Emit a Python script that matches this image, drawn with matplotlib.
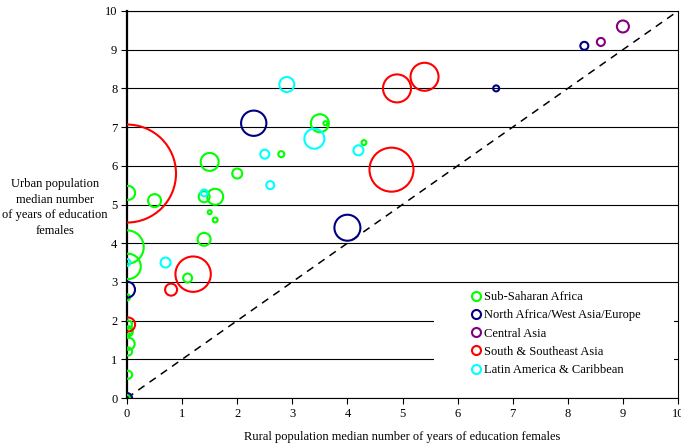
import numpy as np
import matplotlib
matplotlib.use("Agg")
import matplotlib.pyplot as plt
from matplotlib.lines import Line2D
from matplotlib.patches import Rectangle

plt.rcParams['font.family'] = ['Liberation Serif', 'DejaVu Serif']

# Regions, colours
regions = ["Sub-Saharan Africa", "North Africa/West Asia/Europe", "Central Asia",
           "South & Southeast Asia", "Latin America & Caribbean"]
colors = ["#00ff00", "#000080", "#800080", "#ff0000", "#00ffff"]

# Rural (x), urban (y) median years of education, females; bubble = population (arbitrary units)
ssa_x = [1.5, 2.0, 2.8, 3.5, 3.6, 4.3, 0.02, 0.5, 1.4, 1.6, 1.5, 1.6, 1.4, 1.1,
         0.0, 0.02, 0.0, 0.02, 0.03, 0.03, 0.03, 0.02, 0.02, 0.0]
ssa_y = [6.1, 5.8, 6.3, 7.1, 7.1, 6.6, 5.3, 5.1, 5.2, 5.2, 4.8, 4.6, 4.1, 3.1,
         3.9, 3.4, 2.6, 1.9, 1.75, 1.7, 1.4, 1.2, 0.6, 0.0]
ssa_pop = [81, 25, 9, 81, 4, 6, 49, 42, 30, 64, 4, 6, 42, 20,
           280, 160, 9, 16, 16, 16, 36, 16, 16, 9]

nawae_x = [2.3, 4.0, 0.0, 0.0, 6.7, 8.3]
nawae_y = [7.1, 4.4, 2.8, 0.0, 8.0, 9.1]
nawae_pop = [160, 169, 64, 25, 9, 16]

ca_x = [8.6, 9.0]
ca_y = [9.2, 9.6]
ca_pop = [16, 36]

ssea_x = [0.0, 4.8, 4.9, 5.4, 1.2, 0.8, 0.02]
ssea_y = [5.8, 5.9, 8.0, 8.3, 3.2, 2.8, 1.9]
ssea_pop = [2401, 484, 196, 196, 313, 36, 49]

lac_x = [2.9, 3.4, 2.5, 2.6, 4.2, 1.4, 0.7, 0.0]
lac_y = [8.1, 6.7, 6.3, 5.5, 6.4, 5.3, 3.5, 3.5]
lac_pop = [56, 100, 20, 16, 25, 12, 25, 12]

series = [(ssa_x, ssa_y, ssa_pop), (nawae_x, nawae_y, nawae_pop), (ca_x, ca_y, ca_pop),
          (ssea_x, ssea_y, ssea_pop), (lac_x, lac_y, lac_pop)]

fig = plt.figure(figsize=(6.81, 4.47), dpi=100)
ax = fig.add_axes([0.1865, 0.1096, 0.8091, 0.8658])

ax.set_xlim(0, 10)
ax.set_ylim(0, 10)
ax.set_xticks(range(11))
ax.set_yticks(range(11))
ax.yaxis.grid(True, color="black", linewidth=0.8)
ax.set_axisbelow(True)

# diagonal: urban = rural
ax.plot([0, 10], [0, 10], color="black", linestyle=(0, (5, 4)), linewidth=1.1, zorder=2)

k = (2 * 0.72) ** 2  # px radius^2 -> points^2 area
for (xs, ys, pop), c in zip(series, colors):
    ax.scatter(xs, ys, s=np.array(pop) * k, facecolors="none", edgecolors=c,
               linewidths=1.5, zorder=3)

for side in ["top", "right", "bottom"]:
    ax.spines[side].set_linewidth(0.8)
ax.spines["left"].set_linewidth(1.6)
ax.tick_params(axis="both", direction="out", length=4, width=0.8, labelsize=9, pad=3)

ax.set_xlabel("Rural population median number of years of education females",
              fontsize=9, labelpad=8)
fig.text(0.081, 0.536, "Urban population\nmedian number\nof years of education\nfemales",
         ha="center", va="center", fontsize=9, linespacing=1.38)

# white legend area (no frame), hides the lower gridlines
box = Rectangle((0.557, 0.004), 0.436, 0.28, transform=ax.transAxes, facecolor="white",
                edgecolor="none", zorder=1.5)
ax.add_patch(box)

handles = [Line2D([], [], linestyle="none", marker="o", markersize=6.5,
                  markerfacecolor="none", markeredgecolor=c, markeredgewidth=1.5)
           for c in colors]
leg = ax.legend(handles, regions, loc="upper left", bbox_to_anchor=(0.618, 0.286),
                fontsize=9, frameon=False, labelspacing=0.5,
                handlelength=0.8, handletextpad=0.25, borderaxespad=0.0, borderpad=0.3)
leg.set_zorder(5)

fig.savefig("out.png", dpi=100)
